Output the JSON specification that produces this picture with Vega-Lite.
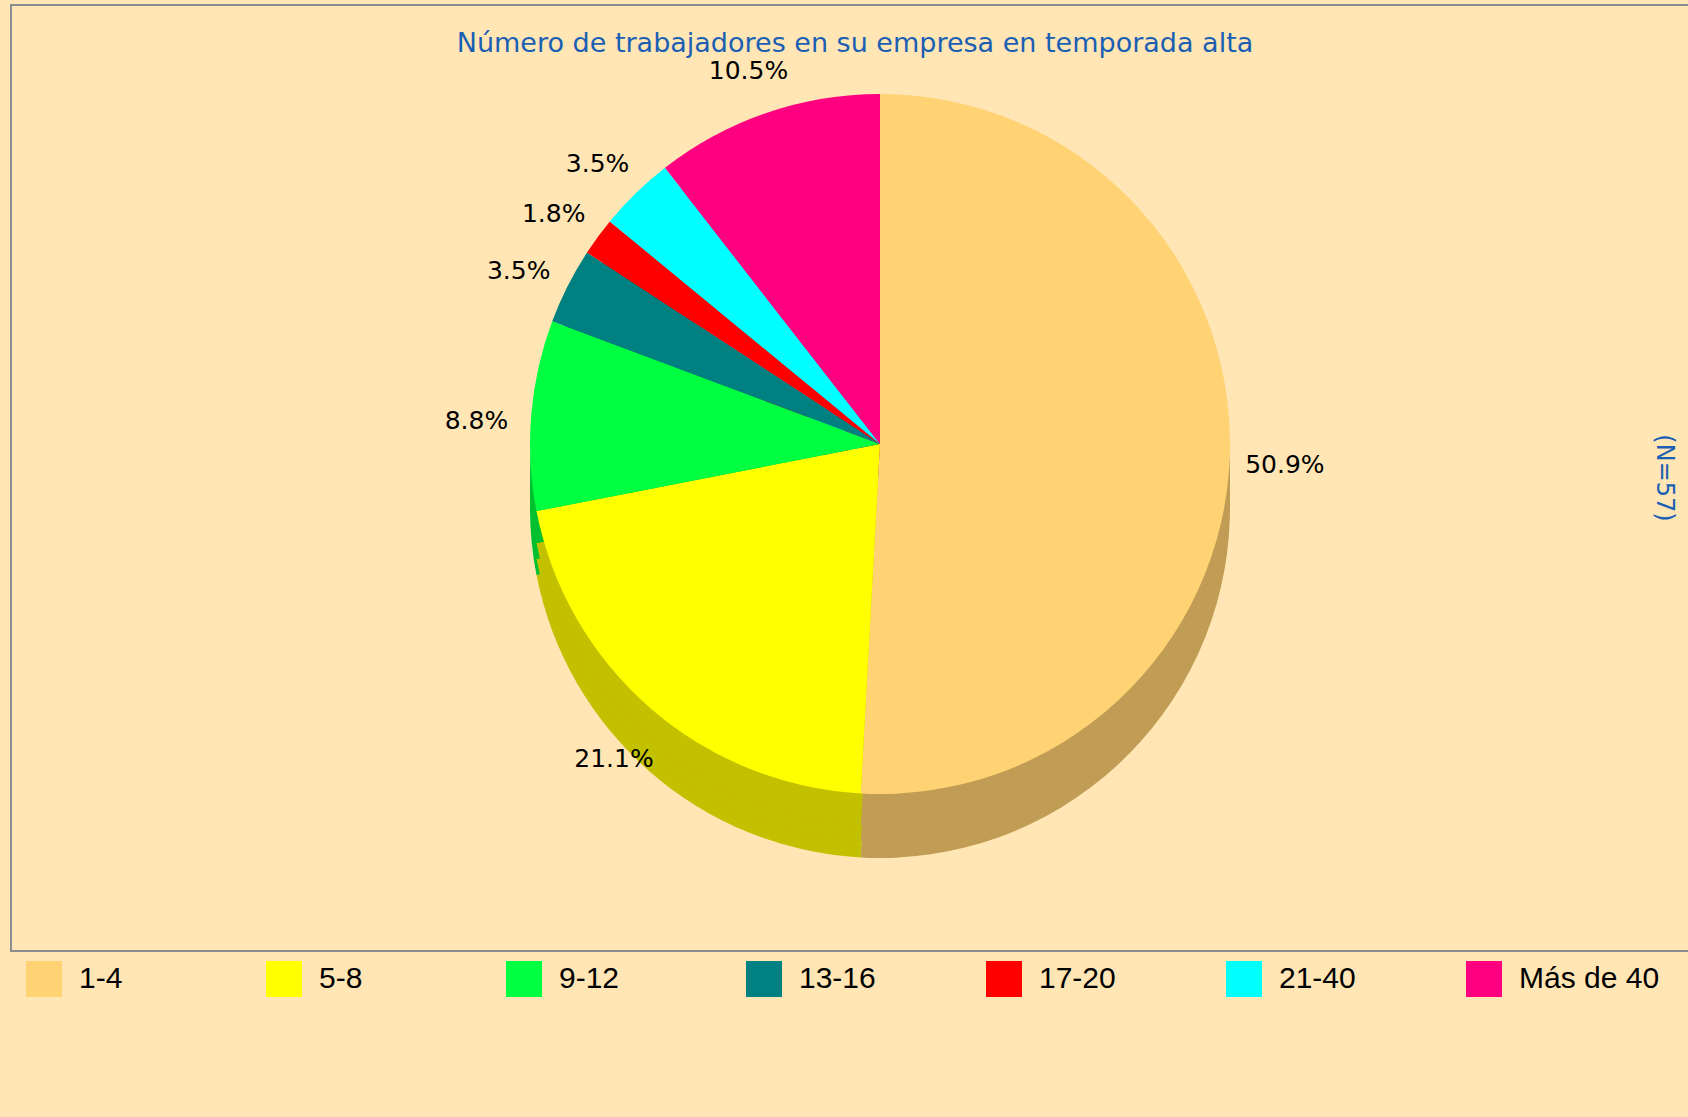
{
  "$schema": "https://vega.github.io/schema/vega-lite/v6.json",
  "background": "#FFE6B4",
  "padding": {"left": 10, "top": 4, "right": 0, "bottom": 167},
  "title": {
    "text": "Número de trabajadores en su empresa en temporada alta",
    "font": "DejaVu Sans", "fontSize": 27, "fontWeight": "normal", "color": "#1A5FB4",
    "anchor": "start", "align": "center", "dx": 844, "offset": -54, "frame": "group"
  },
  "data": {"values": [
    {"grupo": "1-4", "orden": 1, "n": 29, "porcentaje": 0.509},
    {"grupo": "5-8", "orden": 2, "n": 12, "porcentaje": 0.211},
    {"grupo": "9-12", "orden": 3, "n": 5, "porcentaje": 0.088},
    {"grupo": "13-16", "orden": 4, "n": 2, "porcentaje": 0.035},
    {"grupo": "17-20", "orden": 5, "n": 1, "porcentaje": 0.018},
    {"grupo": "21-40", "orden": 6, "n": 2, "porcentaje": 0.035},
    {"grupo": "Más de 40", "orden": 7, "n": 6, "porcentaje": 0.105}
  ]},
  "vconcat": [{
    "width": 1678,
    "height": 946,
    "view": {"stroke": "#8C8C8C", "strokeWidth": 2},
    "title": {"text": "(N=57)", "orient": "right", "anchor": "middle", "frame": "group", "offset": -37,
      "font": "DejaVu Sans", "fontSize": 24, "fontWeight": "normal", "color": "#1A5FB4"},
    "encoding": {
      "theta": {"field": "n", "type": "quantitative", "stack": true},
      "order": {"field": "orden", "type": "quantitative"}
    },
    "layer": [
      {"mark": {"type": "arc", "radius": 350, "xOffset": 30, "yOffset": 30},
       "encoding": {"fill": {"field": "grupo", "type": "nominal",
         "scale": {"range": ["#C09C55","#006060","#C00000","#00C0C0","#C3C000","#00C030","#C00060"]},
         "legend": null}}},
      {"mark": {"type": "arc", "radius": 350, "xOffset": 30, "yOffset": 14},
       "encoding": {"fill": {"field": "grupo", "type": "nominal", "legend": null}}},
      {"mark": {"type": "arc", "radius": 350, "xOffset": 30, "yOffset": -2},
       "encoding": {"fill": {"field": "grupo", "type": "nominal", "legend": null}}},
      {"mark": {"type": "arc", "radius": 350, "xOffset": 30, "yOffset": -34},
       "encoding": {"color": {"field": "grupo", "type": "nominal",
         "scale": {"domain": ["1-4","5-8","9-12","13-16","17-20","21-40","Más de 40"],
                   "range": ["#FFD273","#FFFF00","#00FF40","#008080","#FF0000","#00FFFF","#FF0080"]},
         "legend": {"orient": "none", "legendX": 15, "legendY": 956, "direction": "horizontal", "columns": 7,
           "title": null, "symbolType": "square", "symbolSize": 1296, "symbolStrokeWidth": 0, "symbolOpacity": 1,
           "labelFont": "Liberation Sans", "labelFontSize": 30, "labelColor": "#000000", "labelOffset": 17,
           "columnPadding": 46, "gridAlign": "all", "padding": 0, "labelLimit": 400}}}},
      {"mark": {"type": "text", "radius": 405, "xOffset": 30, "yOffset": -24, "font": "DejaVu Sans", "fontSize": 25, "color": "#000000"},
       "encoding": {"text": {"field": "porcentaje", "type": "quantitative", "format": ".1%"}}}
    ]
  }],
  "config": {"view": {"stroke": "#8C8C8C", "strokeWidth": 2}}
}
